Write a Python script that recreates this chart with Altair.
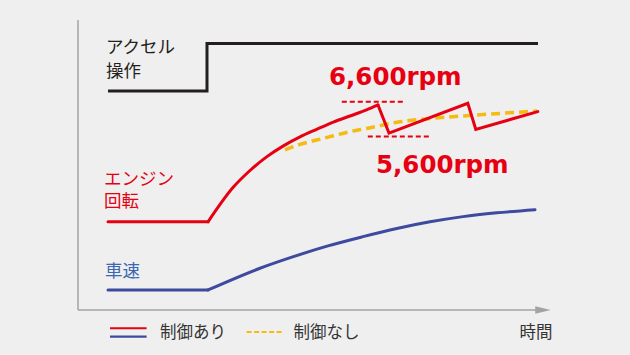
import altair as alt
import pandas as pd

# ---- data (schematic units: time 0-24, level 0-100) ----
accel_t = [1.5, 6.45, 6.45, 23.0]
accel_v = [75.5, 75.5, 91.9, 91.9]

engine_idle_t = [1.5, 6.5]
engine_idle_v = [30.4, 30.4]
engine_rise_t = [6.5, 7.77, 8.6, 9.43, 10.27, 11.1, 11.93, 12.77, 13.6, 14.43, 15.0]
engine_rise_v = [30.4, 42.4, 48.1, 52.8, 56.6, 59.7, 62.3, 64.8, 66.9, 69.0, 70.7]
engine_shift_t = [15.0, 15.55, 19.49, 19.89, 22.99]
engine_shift_v = [70.7, 61.0, 71.3, 62.3, 68.4]

nocontrol_t = [10.35, 11.1, 11.93, 12.77, 13.6, 14.43, 16.1, 17.75, 19.43, 21.1, 22.95]
nocontrol_v = [55.2, 57.1, 58.6, 60.1, 61.5, 62.6, 64.9, 66.1, 67.0, 67.8, 68.6]

speed_idle_t = [1.5, 6.5]
speed_idle_v = [6.9, 6.9]
speed_rise_t = [6.5, 9.1, 10.77, 12.5, 14.2, 15.94, 17.6, 19.25, 20.94, 22.85]
speed_rise_v = [6.9, 14.4, 18.4, 22.1, 25.2, 28.1, 30.4, 32.2, 33.5, 34.6]

limit_text = ["6,600rpm", "5,600rpm"]
limit_v = [71.8, 59.8]
limit_t1 = [13.19, 14.49]
limit_t2 = [16.3, 17.57]
limit_text_t = [12.55, 14.9]
limit_text_v = [77.6, 47.1]

series_text = ["アクセル", "操作", "エンジン", "回転", "車速"]
series_text_t = [1.4, 1.4, 1.3, 1.3, 1.35]
series_text_v = [90.2, 81.9, 45.0, 37.1, 13.2]
series_text_c = ["#231f20", "#231f20", "#e60012", "#e60012", "#3c68b0"]

legend_text = ["制御あり", "制御なし", "時間"]
legend_text_t = [4.1, 10.77, 23.73]
legend_text_v = [-8.0, -8.0, -8.0]
legend_text_align = ["left", "left", "right"]

RED = "#e60012"
BLUE = "#3d4a9e"
YELLOW = "#f5bb12"
BLACK = "#231f20"
GRAY = "#a3a3a3"

xs = alt.Scale(domain=[0, 24], nice=False, zero=False)
ys = alt.Scale(domain=[0, 100], nice=False, zero=False)


def df(t, v):
    return pd.DataFrame({"t": t, "v": v, "i": list(range(len(t)))})


def line(t, v, color, width=3, interp="linear", dash=None, cap="butt"):
    kw = dict(color=color, strokeWidth=width, interpolate=interp, strokeCap=cap)
    if dash:
        kw["strokeDash"] = dash
    return alt.Chart(df(t, v)).mark_line(**kw).encode(
        x=alt.X("t:Q", scale=xs, axis=None),
        y=alt.Y("v:Q", scale=ys, axis=None),
        order="i:Q",
    )


# axes
axis_df = pd.DataFrame({"t": [0.0, 0.0], "v": [100.0, 0.0], "t2": [0.0, 22.95], "v2": [0.0, 0.0]})
y_axis = alt.Chart(axis_df.iloc[[0]]).mark_rule(color=GRAY, strokeWidth=1.5).encode(
    x=alt.X("t:Q", scale=xs, axis=None), y=alt.Y("v:Q", scale=ys, axis=None), y2="v2:Q"
)
x_axis = alt.Chart(axis_df.iloc[[1]]).mark_rule(color=GRAY, strokeWidth=1.5).encode(
    x=alt.X("t:Q", scale=xs, axis=None), x2="t2:Q", y=alt.Y("v:Q", scale=ys, axis=None)
)
arrow = alt.Chart(pd.DataFrame({"t": [23.25], "v": [0.0]})).mark_point(
    shape="M -1 -0.47 L 1 0 L -1 0.47 Z", filled=True, color=GRAY, opacity=1, size=240
).encode(x=alt.X("t:Q", scale=xs, axis=None), y=alt.Y("v:Q", scale=ys, axis=None))

layers = [
    y_axis, x_axis, arrow,
    line(accel_t, accel_v, BLACK, 3),
    line(speed_idle_t, speed_idle_v, BLUE, 3, cap="round"),
    line(speed_rise_t, speed_rise_v, BLUE, 3, "monotone", cap="round"),
    line(nocontrol_t, nocontrol_v, YELLOW, 3.5, "monotone", dash=[9, 5]),
    line(engine_idle_t, engine_idle_v, RED, 3, cap="round"),
    line(engine_rise_t, engine_rise_v, RED, 3, "monotone", cap="round"),
    line(engine_shift_t, engine_shift_v, RED, 3, cap="round"),
]

lim_df = pd.DataFrame({"t": limit_t1, "t2": limit_t2, "v": limit_v,
                       "tt": limit_text_t, "tv": limit_text_v, "label": limit_text})
layers.append(alt.Chart(lim_df).mark_rule(color=RED, strokeWidth=2, strokeDash=[5, 3]).encode(
    x=alt.X("t:Q", scale=xs, axis=None), x2="t2:Q", y=alt.Y("v:Q", scale=ys, axis=None)))
layers.append(alt.Chart(lim_df).mark_text(
    color=RED, font="DejaVu Sans", fontWeight="bold", fontSize=24.5, align="left", baseline="alphabetic"
).encode(x=alt.X("tt:Q", scale=xs, axis=None), y=alt.Y("tv:Q", scale=ys, axis=None), text="label:N"))

lab_df = pd.DataFrame({"t": series_text_t, "v": series_text_v, "label": series_text, "c": series_text_c})
layers.append(alt.Chart(lab_df).mark_text(
    font="Noto Sans CJK JP", fontSize=17.5, align="left", baseline="middle"
).encode(x=alt.X("t:Q", scale=xs, axis=None), y=alt.Y("v:Q", scale=ys, axis=None),
         text="label:N", color=alt.Color("c:N", scale=None)))

# legend keys
layers.append(line([1.6, 3.43], [-6.3, -6.3], RED, 2.2))
layers.append(line([1.6, 3.43], [-9.2, -9.2], BLUE, 2.2))
layers.append(line([8.43, 10.3], [-7.6, -7.6], YELLOW, 2, dash=[5, 2.5]))

for txt, tt, vv, al in zip(legend_text, legend_text_t, legend_text_v, legend_text_align):
    layers.append(alt.Chart(pd.DataFrame({"t": [tt], "v": [vv], "label": [txt]})).mark_text(
        font="Noto Sans CJK JP", fontSize=16.5, align=al, baseline="middle", color="#333333"
    ).encode(x=alt.X("t:Q", scale=xs, axis=None), y=alt.Y("v:Q", scale=ys, axis=None), text="label:N"))

chart = alt.layer(*layers).properties(
    width=480, height=290,
    padding={"left": 78, "top": 20, "right": 72, "bottom": 45},
    autosize="none",
    background="#efefef",
).configure_view(stroke=None)

chart.save("out.html", embed_options={"renderer": "svg", "actions": False})
